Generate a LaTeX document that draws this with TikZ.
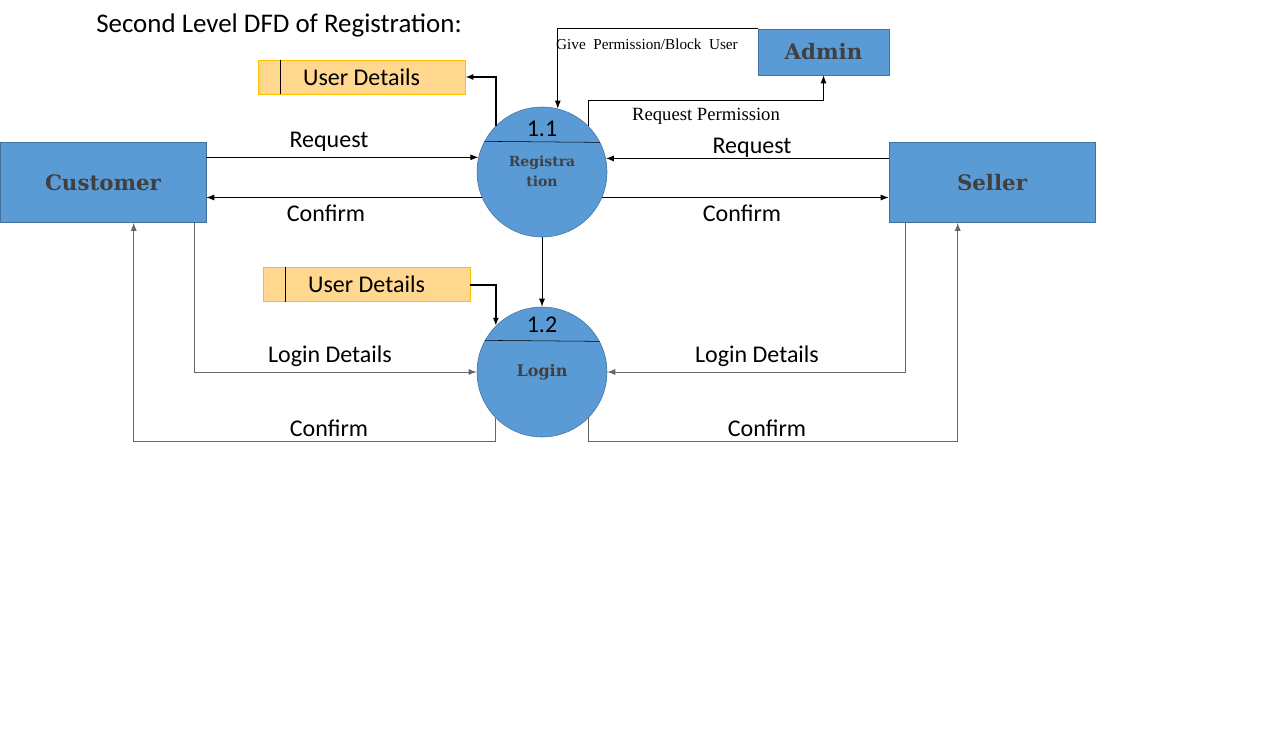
\documentclass[tikz,border=0pt]{standalone}
\usepackage{fontspec}
\setmainfont{Carlito}
\newfontfamily\slabfont{DejaVu Serif}
\newfontfamily\timesfont{Liberation Serif}
\usepackage{xcolor}
\usetikzlibrary{arrows.meta}
\definecolor{procblue}{HTML}{5B9BD5}
\definecolor{procedge}{HTML}{41719C}
\definecolor{storefill}{HTML}{FFD78F}
\definecolor{storeedge}{HTML}{FFC000}
\definecolor{namegray}{HTML}{404040}
\tikzset{>={Latex[length=6pt,width=4.5pt]}}
\tikzset{
  entity/.style={draw=procedge,fill=procblue,minimum width=154.5pt,minimum height=60pt,
    inner sep=0pt,font=\slabfont\bfseries\fontsize{16}{19}\selectfont,text=namegray},
  process/.style={circle,draw=procedge,fill=procblue,minimum size=97.5pt,inner sep=0pt},
  store/.style={draw=storeedge,fill=storefill,minimum width=155.25pt,minimum height=25.5pt,
    inner sep=0pt,font=\fontsize{18}{21}\selectfont},
  flow/.style={->,line width=0.75pt},
  loginflow/.style={->,line width=0.75pt,draw=black!60},
  thickflow/.style={->,line width=1.5pt},
  lbl/.style={font=\fontsize{18}{21}\selectfont,inner sep=0pt},
  tlbl/.style={font=\timesfont\fontsize{14}{16}\selectfont,inner sep=0pt}
}
\begin{document}
\begin{tikzpicture}[x=0.75pt,y=-0.75pt]
    \useasboundingbox (0,0) rectangle (1277,749);
    \node[anchor=west,lbl,font=\fontsize{20.2}{24}\selectfont] (title) at (96,25) {Second Level DFD of Registration:};
    % external entities
    \node[entity] (cust) at (103,182.5) {Customer};
    \node[entity] (sel) at (992,182.5) {Seller};
    \node[entity,minimum width=98.25pt,minimum height=34.5pt] (adm) at (823.5,52) {Admin};
    % data stores
    \node[store] (ud1) at (361.5,77) {User Details};
    \node[store] (ud2) at (366.5,284.5) {User Details};
    \draw ([xshift=17.25pt]ud1.north west) -- ([xshift=17.25pt]ud1.south west);
    \draw ([xshift=17.25pt]ud2.north west) -- ([xshift=17.25pt]ud2.south west);
    % processes
    \node[process] (reg) at (542,172) {};
    \node[process] (login) at (542,372) {};
    \draw (reg.152.5) -- (reg.27.5);
    \draw (login.151.5) -- (login.28.5);
    \node[lbl] (regnum) at (542,129) {1.1};
    \node[lbl] (loginnum) at (542,325) {1.2};
    \node[align=center,inner sep=0pt,text=namegray,
      font=\slabfont\bfseries\fontsize{10.5}{15}\selectfont] (regname) at (542,171) {Registra\\tion};
    \node[inner sep=0pt,text=namegray,
      font=\slabfont\bfseries\fontsize{12}{14}\selectfont] (loginname) at (542,372) {Login};
    % registration flows
    \draw[flow] (reg.167.6 -| cust.east) -- (reg.167.6);
    \draw[flow] (reg.203.6) -- (reg.203.6 -| cust.east);
    \draw[flow] (reg.12.4 -| sel.west) -- (reg.12.4);
    \draw[flow] (reg.-23.6) -- (reg.-23.6 -| sel.west);
    \draw[thickflow] (reg.135) |- (ud1.east);
    \draw[flow] (adm.north west) -| (reg.76.6);
    \coordinate (rpbend) at (0,100);
    \draw[flow] (reg.45) -- (reg.45 |- rpbend) -| (adm.south);
    \draw[flow] (reg.south) -- (login.north);
    \draw[thickflow] (ud2.east) -| (login.135);
    % login flows
    \coordinate (lowline) at (0,441);
    \draw[loginflow] ([xshift=-9pt]cust.south east) |- (login.west);
    \draw[loginflow] (login.225) -- (login.225 |- lowline) -| ([xshift=100.5pt]cust.south west);
    \draw[loginflow] ([xshift=12.75pt]sel.south west) |- (login.east);
    \draw[loginflow] (login.-45) -- (login.-45 |- lowline) -| ([xshift=51.75pt]sel.south west);
    % labels
    \node[lbl] at (329,142) {Request};
    \node[lbl] at (326,213) {Confirm};
    \node[lbl] at (752,148) {Request};
    \node[lbl] at (742,213) {Confirm};
    \node[lbl] at (330,356) {Login Details};
    \node[lbl] at (329,428) {Confirm};
    \node[lbl] at (757,356) {Login Details};
    \node[lbl] at (767,428) {Confirm};
    \node[tlbl,font=\timesfont\fontsize{11.4}{13}\selectfont] at (647,44) {Give~~Permission/Block~~User};
    \node[tlbl] at (706,116) {Request Permission};
\end{tikzpicture}
\end{document}
